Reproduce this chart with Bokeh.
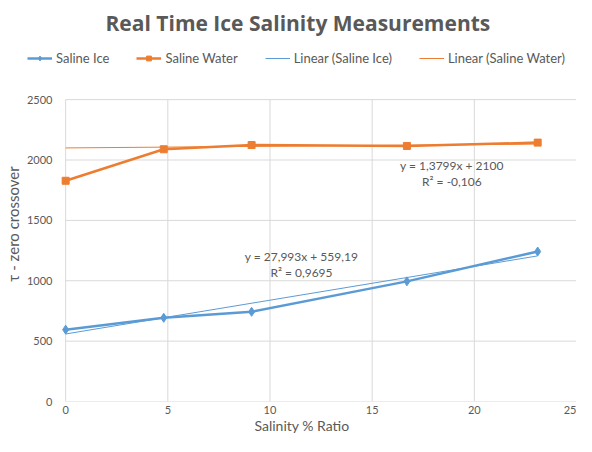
from bokeh.plotting import figure
from bokeh.models import Range1d, Legend, LegendItem, Label, FixedTicker, Title
from bokeh.embed import file_html
from bokeh.resources import INLINE

# ---- data ----
salinity = [0, 4.8, 9.1, 16.7, 23.1]
saline_ice = [595, 693, 743, 995, 1242]
saline_water = [1828, 2089, 2124, 2116, 2144]
ice_fit = (27.993, 559.19)
water_fit = (1.3799, 2100)
ice_eq = ["y = 27,993x + 559,19", "R² = 0,9695"]
water_eq = ["y = 1,3799x + 2100", "R² = -0,106"]
x_ticks = [0, 5, 10, 15, 20, 25]
y_ticks = [0, 500, 1000, 1500, 2000, 2500]

FONT = "Lato"
GRAY = "#595959"
GRID = "#d9d9d9"
BLUE = "#5b9bd5"
ORANGE = "#ed7d31"

# the plot frame also holds the legend strip above / left of the value area
p = figure(width=576, height=436, output_backend="svg", toolbar_location=None,
           x_range=Range1d(-1.867, 25), y_range=Range1d(0, 2940),
           min_border_left=25, min_border_right=0, min_border_top=45,
           min_border_bottom=30)
p.outline_line_color = None

p.title = Title(text="Real Time Ice Salinity Measurements", align="left", offset=78,
                vertical_align="top", standoff=16, text_font="Open Sans",
                text_font_size="21px", text_font_style="bold", text_color=GRAY)

# grid lines, bounded to the value axes
p.xgrid.grid_line_color = None
p.ygrid.grid_line_color = None
ny, nx = len(y_ticks), len(x_ticks)
p.segment(x0=[x_ticks[0]] * ny, x1=[x_ticks[-1]] * ny, y0=y_ticks, y1=y_ticks,
          line_color=GRID, line_width=1, level="underlay")
p.segment(x0=x_ticks, x1=x_ticks, y0=[y_ticks[0]] * nx, y1=[y_ticks[-1]] * nx,
          line_color=GRID, line_width=1, level="underlay")

for ax in (p.xaxis, p.yaxis):
    ax.axis_line_color = None
    ax.major_tick_line_color = None
    ax.minor_tick_line_color = None
    ax.major_label_text_font = FONT
    ax.major_label_text_font_size = "11px"
    ax.major_label_text_color = GRAY
    ax.axis_label_text_font = FONT
    ax.axis_label_text_font_size = "15px"
    ax.axis_label_text_font_style = "normal"
    ax.axis_label_text_color = GRAY
p.xaxis.axis_label_text_font_size = "14px"
p.xaxis.ticker = FixedTicker(ticks=x_ticks)
p.yaxis.ticker = FixedTicker(ticks=y_ticks)
p.xaxis.bounds = (x_ticks[0], x_ticks[-1])
p.yaxis.bounds = (y_ticks[0], y_ticks[-1])
p.xaxis.axis_label = "Salinity % Ratio"
p.yaxis.axis_label = "τ - zero crossover"
p.xaxis.major_label_standoff = -2
p.xaxis.axis_label_standoff = 0
# y labels sit inside the widened frame, next to the x = 0 line
p.yaxis.major_label_standoff = -31
p.yaxis.axis_label_standoff = 2

# series
ice_line = p.line(salinity, saline_ice, line_color=BLUE, line_width=2.5)
ice_pts = p.scatter(salinity, saline_ice, marker="diamond", size=9, color=BLUE)
water_line = p.line(salinity, saline_water, line_color=ORANGE, line_width=2.5)
water_pts = p.scatter(salinity, saline_water, marker="square", size=7, color=ORANGE)

x_fit = [salinity[0], salinity[-1]]
ice_trend = p.line(x_fit, [ice_fit[0] * x + ice_fit[1] for x in x_fit],
                   line_color=BLUE, line_width=1)
water_trend = p.line(x_fit, [water_fit[0] * x + water_fit[1] for x in x_fit],
                     line_color=ORANGE, line_width=1)

legend = Legend(items=[
    LegendItem(label="Saline Ice", renderers=[ice_line, ice_pts]),
    LegendItem(label="Saline Water", renderers=[water_line, water_pts]),
    LegendItem(label="Linear (Saline Ice)", renderers=[ice_trend]),
    LegendItem(label="Linear (Saline Water)", renderers=[water_trend]),
], orientation="horizontal", location=(0, 335), glyph_width=25, glyph_height=12,
    label_height=16, label_standoff=4, spacing=27, padding=0, margin=0,
    border_line_color=None, background_fill_alpha=0, label_text_font=FONT,
    label_text_font_size="13px", label_text_color=GRAY)
p.add_layout(legend, "center")

eq_style = dict(text_align="center", text_baseline="middle", text_font=FONT,
                text_font_size="12px", text_color=GRAY)
p.add_layout(Label(x=18.9, y=1957, text=water_eq[0], **eq_style))
p.add_layout(Label(x=18.9, y=1826, text=water_eq[1], **eq_style))
p.add_layout(Label(x=11.54, y=1201, text=ice_eq[0], **eq_style))
p.add_layout(Label(x=11.54, y=1069, text=ice_eq[1], **eq_style))

open("out.html", "w").write(file_html(p, INLINE))
